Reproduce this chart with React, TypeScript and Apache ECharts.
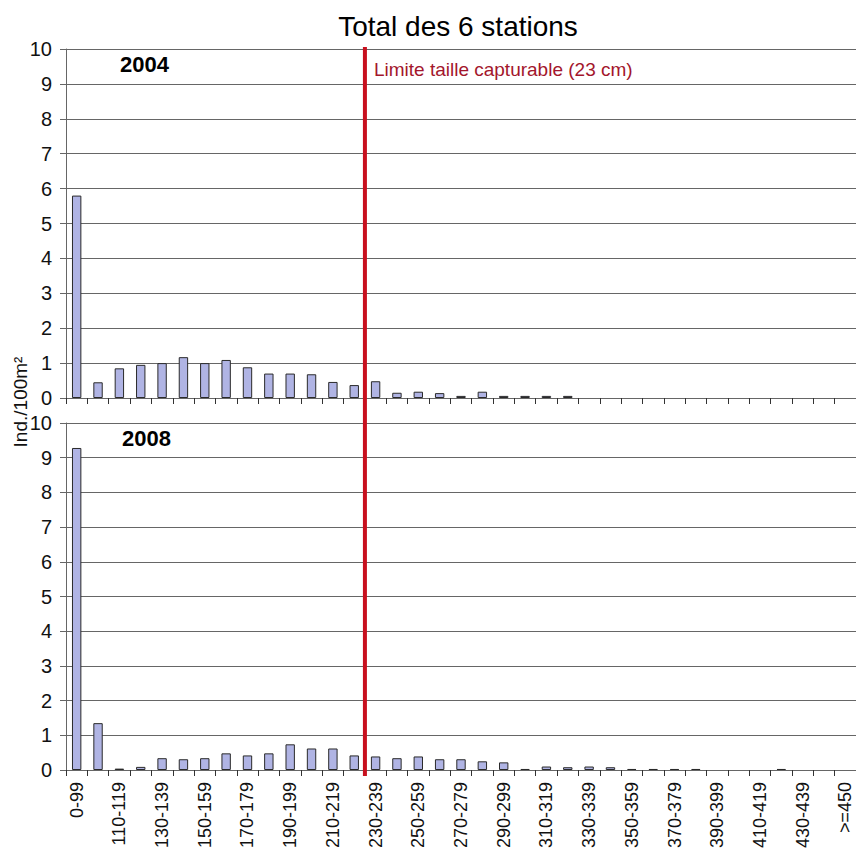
import React, { useEffect, useRef } from "react";
import * as echarts from "echarts";

const categories = [
  "0-99", "100-109", "110-119", "120-129", "130-139", "140-149", "150-159", "160-169",
  "170-179", "180-189", "190-199", "200-209", "210-219", "220-229", "230-239", "240-249",
  "250-259", "260-269", "270-279", "280-289", "290-299", "300-309", "310-319", "320-329",
  "330-339", "340-349", "350-359", "360-369", "370-379", "380-389", "390-399", "400-409",
  "410-419", "420-429", "430-439", "440-449", ">=450",
];

const values2004 = [
  5.8, 0.45, 0.85, 0.95, 1.0, 1.17, 1.0, 1.09, 0.88, 0.7, 0.7, 0.68, 0.46, 0.37, 0.48, 0.15,
  0.18, 0.14, 0.06, 0.18, 0.06, 0.06, 0.06, 0.06, 0, 0, 0, 0, 0, 0, 0, 0, 0, 0, 0, 0, 0,
];

const values2008 = [
  9.28, 1.35, 0.04, 0.09, 0.34, 0.31, 0.34, 0.48, 0.42, 0.48, 0.74, 0.62, 0.62, 0.42, 0.39, 0.34,
  0.39, 0.31, 0.31, 0.25, 0.22, 0.03, 0.1, 0.08, 0.1, 0.08, 0.03, 0.03, 0.03, 0.03, 0, 0, 0,
  0.03, 0, 0, 0,
];

const yTicks = [0, 10, 1]; // min, max, interval
const limitAfterIndex = 13; // line between "220-229" and "230-239"

const FONT = "Liberation Sans, Arial, sans-serif";

export default function App() {
  const ref = useRef<HTMLDivElement>(null);

  useEffect(() => {
    if (!ref.current) return;
    const chart = echarts.init(ref.current, undefined, { renderer: "svg" });

    const gridColor = "#666666";
    const mkY = (gi: number) => ({
      type: "value",
      gridIndex: gi,
      min: yTicks[0],
      max: yTicks[1],
      interval: yTicks[2],
      axisLine: { show: true, lineStyle: { color: gridColor, width: 1 } },
      axisTick: { show: true, length: 6, lineStyle: { color: gridColor } },
      splitLine: { show: true, lineStyle: { color: gridColor, width: 1 } },
      axisLabel: { color: "#111", fontFamily: FONT, fontSize: 20, margin: 14 },
    });
    const mkX = (gi: number, labels: boolean) => ({
      type: "category",
      gridIndex: gi,
      data: categories,
      boundaryGap: true,
      axisLine: { show: true, lineStyle: { color: gridColor, width: 1 } },
      axisTick: { show: true, interval: 0, length: 6, lineStyle: { color: "#333" } },
      axisLabel: labels
        ? { show: true, interval: 1, rotate: 90, color: "#111", fontFamily: FONT, fontSize: 18, margin: 12 }
        : { show: false },
    });
    const toData = (arr: number[]) => arr.map((v) => (v === 0 ? "-" : v));
    const barStyle = { color: "#b0b4e4", borderColor: "#2a2a2a", borderWidth: 1 };

    chart.setOption({
      animation: false,
      backgroundColor: "#fff",
      grid: [
        { left: 66, top: 49, width: 791, height: 349 },
        { left: 66, top: 423, width: 791, height: 347 },
      ],
      xAxis: [mkX(0, false), mkX(1, true)],
      yAxis: [mkY(0), mkY(1)],
      series: [
        { type: "bar", name: "2004", xAxisIndex: 0, yAxisIndex: 0, data: toData(values2004), barWidth: "44%", itemStyle: barStyle },
        { type: "bar", name: "2008", xAxisIndex: 1, yAxisIndex: 1, data: toData(values2008), barWidth: "44%", itemStyle: barStyle },
      ],
    });

    const a = chart.convertToPixel({ xAxisIndex: 0 }, limitAfterIndex) as number;
    const b = chart.convertToPixel({ xAxisIndex: 0 }, limitAfterIndex + 1) as number;
    const lx = (a + b) / 2;

    chart.setOption({
      graphic: [
        {
          type: "text", x: 458, y: 26,
          style: { text: "Total des 6 stations", font: `normal 28px ${FONT}`, fill: "#000", align: "center", verticalAlign: "middle" },
        },
        {
          type: "text", x: 120, y: 64,
          style: { text: "2004", font: `bold 22px ${FONT}`, fill: "#000", align: "left", verticalAlign: "middle" },
        },
        {
          type: "text", x: 122, y: 438,
          style: { text: "2008", font: `bold 22px ${FONT}`, fill: "#000", align: "left", verticalAlign: "middle" },
        },
        {
          type: "text", x: lx + 9, y: 69,
          style: { text: "Limite taille capturable (23 cm)", font: `normal 19px ${FONT}`, fill: "#a3162c", align: "left", verticalAlign: "middle" },
        },
        {
          type: "text", x: 20, y: 402, rotation: Math.PI / 2,
          style: { text: "Ind./100m²", font: `normal 19px ${FONT}`, fill: "#111", align: "center", verticalAlign: "middle" },
        },
        {
          type: "line", z: 10,
          shape: { x1: lx, y1: 47, x2: lx, y2: 776 },
          style: { stroke: "#c8101e", lineWidth: 4 },
        },
      ],
    });

    return () => chart.dispose();
  }, []);

  return (
    <div
      ref={ref}
      style={{ position: "absolute", left: 0, top: 0, width: 856, height: 854, background: "#fff" }}
    />
  );
}
